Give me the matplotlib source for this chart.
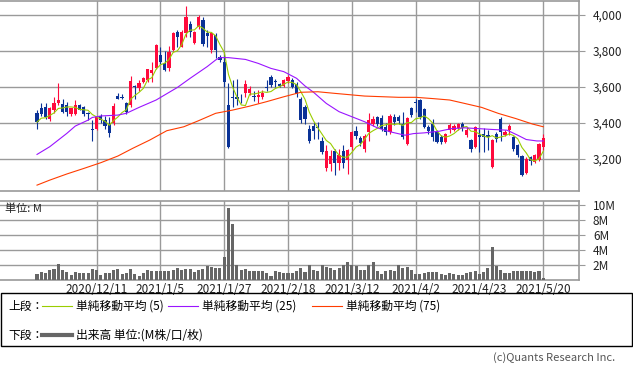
import matplotlib.pyplot as plt
import pandas as pd
from matplotlib.patches import Rectangle
from matplotlib.lines import Line2D

plt.rcParams['font.family'] = ['Noto Sans CJK JP', 'DejaVu Sans']

# daily candles (yen), oldest first
opens = [3455, 3484, 3490, 3423, 3470, 3509, 3503, 3499, 3451, 3451,
         3499, 3490, 3455, 3368, 3366, 3436, 3417, 3394, 3397, 3549,
         3545, 3508, 3499, 3605, 3592, 3629, 3638, 3679, 3703, 3778,
         3735, 3703, 3805, 3904, 3824, 3898, 3950, 3846, 3932, 3972,
         3898, 3805, 3889, 3768, 3740, 3499, 3545, 3543, 3535, 3564,
         3568, 3551, 3542, 3542, 3600, 3653, 3633, 3616, 3605, 3633,
         3640, 3618, 3534, 3487, 3366, 3385, 3378, 3300, 3151, 3170,
         3245, 3179, 3245, 3195, 3263, 3357, 3314, 3254, 3347, 3394,
         3431, 3428, 3378, 3350, 3434, 3434, 3396, 3282, 3480, 3515,
         3525, 3479, 3374, 3396, 3350, 3321, 3294, 3359, 3362, 3372,
         3394, 3330, 3302, 3267, 3330, 3339, 3330, 3153, 3340, 3424,
         3330, 3361, 3320, 3274, 3217, 3120, 3210, 3180, 3194, 3265]
highs = [3470, 3510, 3512, 3490, 3541, 3619, 3530, 3515, 3485, 3525,
         3505, 3495, 3460, 3413, 3440, 3450, 3440, 3430, 3512, 3568,
         3560, 3518, 3660, 3610, 3640, 3655, 3700, 3740, 3840, 3820,
         3800, 3825, 3905, 3917, 3915, 4050, 3965, 3910, 4000, 3990,
         3917, 3907, 3900, 3775, 3796, 3620, 3638, 3644, 3560, 3638,
         3605, 3575, 3580, 3580, 3640, 3666, 3642, 3620, 3645, 3666,
         3650, 3630, 3545, 3500, 3390, 3405, 3405, 3320, 3275, 3250,
         3255, 3255, 3275, 3255, 3355, 3380, 3325, 3335, 3455, 3440,
         3440, 3445, 3400, 3450, 3450, 3445, 3460, 3435, 3490, 3530,
         3530, 3485, 3390, 3420, 3360, 3330, 3345, 3400, 3395, 3400,
         3405, 3375, 3310, 3380, 3367, 3370, 3360, 3310, 3350, 3430,
         3360, 3395, 3325, 3280, 3220, 3210, 3215, 3228, 3285, 3335]
lows = [3366, 3440, 3420, 3410, 3455, 3500, 3457, 3436, 3440, 3445,
        3470, 3440, 3415, 3297, 3360, 3400, 3366, 3320, 3390, 3530,
        3530, 3450, 3490, 3530, 3575, 3620, 3625, 3629, 3700, 3730,
        3690, 3690, 3800, 3824, 3820, 3880, 3880, 3840, 3925, 3830,
        3824, 3787, 3759, 3740, 3601, 3262, 3490, 3499, 3510, 3545,
        3555, 3520, 3510, 3530, 3575, 3600, 3601, 3600, 3600, 3620,
        3595, 3545, 3400, 3394, 3290, 3310, 3310, 3225, 3130, 3133,
        3110, 3140, 3150, 3116, 3250, 3310, 3270, 3240, 3300, 3385,
        3380, 3355, 3330, 3340, 3390, 3395, 3310, 3275, 3430, 3460,
        3420, 3370, 3340, 3300, 3285, 3280, 3285, 3345, 3355, 3360,
        3355, 3320, 3240, 3260, 3239, 3239, 3250, 3150, 3295, 3300,
        3325, 3330, 3245, 3210, 3105, 3115, 3165, 3175, 3190, 3250]
closes = [3404, 3448, 3432, 3480, 3512, 3528, 3461, 3461, 3480, 3499,
          3474, 3448, 3448, 3362, 3432, 3413, 3385, 3341, 3493, 3530,
          3538, 3462, 3633, 3597, 3620, 3647, 3700, 3694, 3833, 3740,
          3694, 3796, 3898, 3876, 3908, 3991, 3908, 3904, 3991, 3839,
          3885, 3898, 3805, 3750, 3630, 3267, 3538, 3532, 3530, 3614,
          3586, 3542, 3555, 3568, 3596, 3610, 3625, 3605, 3638, 3657,
          3600, 3562, 3413, 3422, 3301, 3357, 3370, 3235, 3245, 3217,
          3179, 3221, 3179, 3250, 3347, 3329, 3288, 3329, 3413, 3422,
          3394, 3366, 3350, 3440, 3405, 3411, 3321, 3428, 3443, 3510,
          3434, 3378, 3352, 3321, 3294, 3294, 3338, 3387, 3385, 3394,
          3372, 3360, 3256, 3375, 3322, 3320, 3322, 3303, 3310, 3350,
          3350, 3380, 3256, 3219, 3107, 3200, 3190, 3222, 3280, 3316]
# volume, millions of shares
volumes = [0.77, 1.08, 0.9, 1.3, 1.43, 2.2, 1.3, 1.12, 0.68, 1.12,
           0.9, 0.9, 1.0, 1.43, 1.3, 0.64, 0.9, 0.9, 1.3, 1.43,
           0.86, 0.9, 1.5, 0.77, 0.55, 0.95, 1.3, 1.25, 1.16, 1.16,
           1.16, 1.25, 1.3, 1.65, 1.3, 1.43, 1.43, 1.03, 1.3, 1.43,
           1.82, 1.7, 1.56, 1.56, 3.14, 9.7, 7.5, 2.04, 1.38, 1.5,
           1.2, 1.16, 1.2, 1.2, 1.0, 0.6, 1.2, 1.12, 1.0, 1.0,
           0.9, 1.16, 1.56, 1.03, 2.04, 1.3, 1.16, 1.96, 1.7, 1.6,
           1.3, 1.65, 2.04, 2.35, 2.04, 1.82, 1.3, 1.38, 2.0, 2.48,
           1.16, 0.77, 1.16, 1.38, 1.25, 2.0, 1.56, 1.7, 1.3, 0.77,
           0.77, 0.95, 1.03, 1.03, 1.12, 0.77, 0.64, 0.9, 0.77, 0.68,
           0.64, 0.9, 1.03, 1.16, 0.77, 1.03, 1.56, 4.46, 1.82, 1.38,
           0.9, 0.9, 1.16, 1.16, 1.16, 1.16, 1.16, 1.03, 1.16, 0.24]

# 25 and 75 day averages (they need history before the window)
ma25_idx = [0, 3, 7, 9, 12, 13, 15, 19, 21, 24, 28, 30, 33, 36, 40, 42, 43, 45,
            49, 52, 55, 58, 61, 63, 65, 68, 71, 74, 77, 80, 83, 86.5, 88.5, 91,
            94.5, 97.5, 100.5, 103.5, 107, 110.5, 113, 115, 117.5, 119]
ma25_val = [3224, 3267, 3341, 3382, 3415, 3430, 3438, 3443, 3453, 3486, 3527,
            3555, 3597, 3648, 3713, 3750, 3763, 3763, 3753, 3731, 3703, 3685,
            3648, 3605, 3570, 3508, 3462, 3434, 3406, 3372, 3350, 3331, 3340,
            3344, 3353, 3368, 3372, 3368, 3363, 3359, 3331, 3307, 3299, 3299]
ma75_idx = [0, 3, 7, 11, 15, 19, 22.5, 26.5, 30.5, 34.5, 38, 42, 46, 50, 54,
            58, 62, 66, 70, 77, 85, 89, 93, 97, 100.5, 104.5, 108.5, 112.5,
            116.5, 119]
ma75_val = [3053, 3081, 3115, 3146, 3178, 3215, 3258, 3304, 3356, 3378, 3412,
            3453, 3471, 3493, 3518, 3545, 3570, 3573, 3564, 3549, 3542, 3542,
            3535, 3527, 3508, 3486, 3452, 3424, 3393, 3378]

date_idx = [14, 29, 44, 59, 74, 89, 104, 119]
date_labels = ['2020/12/11', '2021/1/5', '2021/1/27', '2021/2/18',
               '2021/3/12', '2021/4/2', '2021/4/23', '2021/5/20']
price_ticks = [3200, 3400, 3600, 3800, 4000]
vol_ticks = [2, 4, 6, 8, 10]

UP = '#ff0a3c'
DOWN = '#0a3296'
GRID = '#9a9a9a'

W, H = 633, 371
fig = plt.figure(figsize=(W / 100, H / 100), dpi=100)


def fx(px):
    return px / W


def fy(py):
    return 1 - py / H


ax = fig.add_axes([0, fy(190.7), fx(579), (190.7 - 0.7) / H])
axv = fig.add_axes([0, fy(280), fx(579), 79 / H])

x = list(range(len(closes)))
xlim = (-8.7, 127.4)

# price panel
colors = [UP if c >= o else DOWN for o, c in zip(opens, closes)]
ax.vlines(x, lows, highs, colors=colors, lw=0.8, zorder=3)
bottoms = [min(o, c) for o, c in zip(opens, closes)]
heights = [max(abs(c - o), 4) for o, c in zip(opens, closes)]
ax.bar(x, heights, bottom=bottoms, width=0.76, color=colors, lw=0, zorder=4)

ma5 = pd.Series(closes).rolling(5, min_periods=1).mean()
ax.plot(x, ma5, color='#9acd00', lw=0.8, zorder=5)
ax.plot(ma25_idx, ma25_val, color='#9a14ff', lw=0.8, zorder=5)
ax.plot(ma75_idx, ma75_val, color='#ff3c00', lw=0.8, zorder=5)

ax.set_xlim(*xlim)
ax.set_ylim(3022, 4080)
ax.set_xticks(date_idx)
ax.set_xticklabels([])
ax.set_yticks(price_ticks)
ax.set_yticklabels([f'{v:,}' for v in price_ticks])

# volume panel
axv.bar(x, volumes, width=0.72, color='#666666', lw=0, zorder=3)
axv.set_xlim(*xlim)
axv.set_ylim(0, 10.6)
axv.set_xticks(date_idx)
axv.set_xticklabels(date_labels)
axv.set_yticks(vol_ticks)
axv.set_yticklabels([f'{v}M' for v in vol_ticks])

for a in (ax, axv):
    a.grid(True, color=GRID, lw=1.0, zorder=0)
    a.set_axisbelow(True)
    a.yaxis.tick_right()
    a.tick_params(axis='y', length=4, color=GRID, pad=6, labelsize=8.5,
                  labelcolor='#222222')
    a.tick_params(axis='x', length=0, pad=2, labelsize=8.5,
                  labelcolor='#222222')
    a.spines['left'].set_visible(False)
    for s in ('top', 'right', 'bottom'):
        a.spines[s].set_color(GRID)
        a.spines[s].set_linewidth(1.2)

fig.text(fx(5), fy(209), '単位: M', fontsize=8, va='center', ha='left',
         color='#222222')

# legend box
fig.add_artist(Rectangle((fx(0.5), fy(346)), fx(631.5), (346 - 293) / H,
                         transform=fig.transFigure, fill=False,
                         edgecolor='black', lw=1.0))
row1, row2 = fy(306), fy(335)
fig.text(fx(8), row1, '上段：', fontsize=8.5, va='center')
legend_items = [(42, '#9acd00', '単純移動平均 (5)'),
                (168, '#9a14ff', '単純移動平均 (25)'),
                (312, '#ff3c00', '単純移動平均 (75)')]
for x0, col, label in legend_items:
    fig.add_artist(Line2D([fx(x0), fx(x0 + 30)], [row1, row1],
                          transform=fig.transFigure, color=col, lw=0.8))
    fig.text(fx(x0 + 34), row1, label, fontsize=8.5, va='center')
fig.text(fx(8), row2, '下段：', fontsize=8.5, va='center')
fig.add_artist(Line2D([fx(42), fx(72)], [row2, row2],
                      transform=fig.transFigure, color='#666666', lw=3))
fig.text(fx(76), row2, '出来高 単位:(M株/口/枚)', fontsize=8.5, va='center')

fig.text(fx(615), fy(358), '(c)Quants Research Inc.', fontsize=8,
         ha='right', va='center', color='#555555')

fig.savefig('out.png', dpi=100)
